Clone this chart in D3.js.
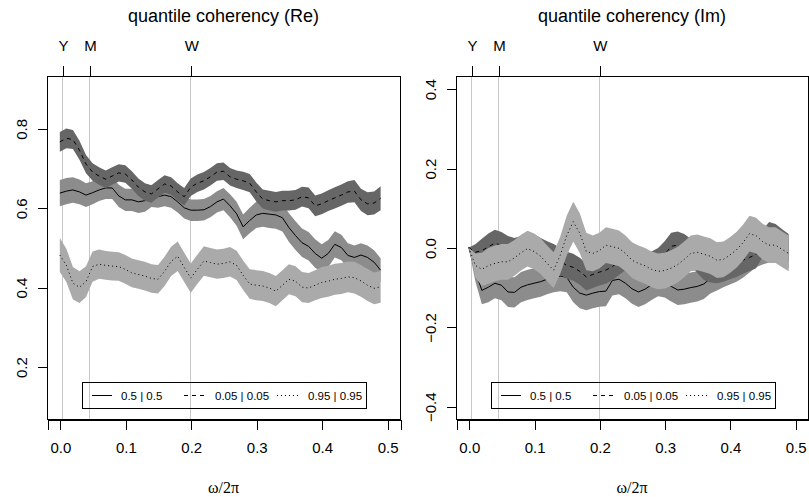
<!DOCTYPE html>
<html>
<head>
<meta charset="utf-8">
<script src="https://cdn.jsdelivr.net/npm/d3@7"></script>
<style>
	body { margin: 0; background: #fff; }
	svg { display: block; }
	text { font-family: "Liberation Sans", Arial, sans-serif; fill: #000; }
	.band { stroke: none; }
	.line { fill: none; stroke: #000; stroke-width: 1; }
	.axis line, .axis path, .box { stroke: #000; fill: none; shape-rendering: crispEdges; }
</style>
</head>
<body>
<div id="chart"></div>
<script>
// frequency grid (omega / 2pi)
const freqs = [0.00,0.01,0.02,0.03,0.04,0.05,0.06,0.07,0.08,0.09,
	0.10,0.11,0.12,0.13,0.14,0.15,0.16,0.17,0.18,0.19,
	0.20,0.21,0.22,0.23,0.24,0.25,0.26,0.27,0.28,0.29,
	0.30,0.31,0.32,0.33,0.34,0.35,0.36,0.37,0.38,0.39,
	0.40,0.41,0.42,0.43,0.44,0.45,0.46,0.47,0.48,0.49];

// real part
const reMid = [0.637,0.642,0.645,0.640,0.632,0.638,0.645,0.650,0.650,0.630,
	0.620,0.620,0.615,0.618,0.630,0.628,0.632,0.628,0.615,0.600,
	0.594,0.594,0.595,0.603,0.615,0.622,0.605,0.585,0.552,0.568,
	0.582,0.586,0.584,0.582,0.575,0.550,0.530,0.512,0.503,0.485,
	0.473,0.485,0.508,0.500,0.480,0.475,0.481,0.475,0.463,0.443];
const reMidW = [0.033,0.033,0.032,0.031,0.030,0.029,0.028,0.028,0.028,0.028,
	0.028,0.028,0.028,0.028,0.028,0.028,0.028,0.028,0.027,0.027,
	0.027,0.027,0.027,0.027,0.027,0.028,0.029,0.030,0.031,0.032,
	0.033,0.034,0.035,0.035,0.035,0.036,0.036,0.036,0.036,0.036,
	0.035,0.034,0.033,0.032,0.031,0.030,0.030,0.030,0.030,0.030];
const reLow = [0.766,0.775,0.772,0.745,0.710,0.690,0.680,0.672,0.680,0.688,
	0.685,0.670,0.652,0.640,0.635,0.648,0.660,0.655,0.640,0.628,
	0.652,0.662,0.668,0.678,0.690,0.692,0.678,0.672,0.668,0.662,
	0.640,0.622,0.618,0.615,0.618,0.618,0.620,0.628,0.625,0.605,
	0.610,0.618,0.625,0.632,0.640,0.642,0.620,0.610,0.612,0.624];
const reLowW = [0.025,0.025,0.024,0.024,0.023,0.022,0.022,0.022,0.022,0.022,
	0.022,0.022,0.022,0.022,0.022,0.022,0.022,0.022,0.022,0.022,
	0.022,0.022,0.022,0.022,0.022,0.022,0.022,0.022,0.023,0.023,
	0.024,0.024,0.025,0.025,0.025,0.025,0.025,0.025,0.026,0.026,
	0.026,0.026,0.027,0.027,0.027,0.028,0.028,0.029,0.029,0.030];
const reHigh = [0.481,0.455,0.410,0.400,0.414,0.452,0.458,0.455,0.453,0.452,
	0.445,0.436,0.432,0.428,0.422,0.420,0.440,0.465,0.478,0.450,
	0.423,0.445,0.466,0.462,0.458,0.460,0.464,0.455,0.430,0.408,
	0.405,0.403,0.398,0.390,0.405,0.420,0.415,0.400,0.398,0.405,
	0.412,0.415,0.420,0.422,0.426,0.424,0.416,0.405,0.397,0.401];
const reHighW = [0.043,0.042,0.041,0.040,0.039,0.038,0.037,0.036,0.036,0.036,
	0.036,0.036,0.036,0.036,0.036,0.036,0.037,0.037,0.037,0.037,
	0.037,0.037,0.037,0.037,0.037,0.037,0.037,0.037,0.037,0.037,
	0.038,0.038,0.038,0.038,0.038,0.038,0.038,0.038,0.038,0.038,
	0.039,0.039,0.039,0.039,0.039,0.040,0.040,0.040,0.040,0.040];

// imaginary part
const imMid = [0.000,-0.060,-0.108,-0.100,-0.090,-0.095,-0.112,-0.113,-0.100,-0.094,
	-0.090,-0.086,-0.080,-0.075,-0.072,-0.075,-0.100,-0.115,-0.120,-0.115,
	-0.111,-0.110,-0.083,-0.080,-0.090,-0.104,-0.112,-0.105,-0.094,-0.085,
	-0.088,-0.098,-0.107,-0.105,-0.101,-0.098,-0.092,-0.078,-0.070,-0.062,
	-0.055,-0.048,-0.038,-0.025,-0.012,-0.005,0.000,0.005,-0.005,-0.015];
const imMidW = [0.000,0.025,0.035,0.038,0.038,0.038,0.038,0.038,0.038,0.038,
	0.038,0.038,0.038,0.038,0.038,0.038,0.038,0.038,0.038,0.038,
	0.038,0.038,0.038,0.038,0.038,0.038,0.038,0.038,0.038,0.038,
	0.038,0.038,0.038,0.038,0.038,0.038,0.038,0.038,0.038,0.038,
	0.038,0.038,0.038,0.038,0.038,0.038,0.038,0.038,0.038,0.038];
const imLow = [0.000,-0.012,-0.008,0.002,0.011,0.005,-0.005,-0.010,-0.005,0.000,
	0.000,-0.010,-0.018,-0.025,-0.035,-0.045,-0.050,-0.060,-0.074,-0.068,
	-0.062,-0.057,-0.048,-0.035,-0.023,-0.028,-0.036,-0.040,-0.044,-0.035,
	-0.018,0.003,0.006,0.000,-0.012,-0.030,-0.048,-0.054,-0.056,-0.052,
	-0.046,-0.040,-0.032,-0.025,-0.018,0.010,0.030,0.025,0.012,0.000];
const imLowW = [0.000,0.020,0.030,0.033,0.034,0.034,0.034,0.034,0.034,0.034,
	0.034,0.034,0.034,0.034,0.034,0.034,0.034,0.034,0.034,0.034,
	0.034,0.034,0.034,0.034,0.034,0.034,0.034,0.034,0.034,0.034,
	0.034,0.034,0.034,0.034,0.034,0.034,0.034,0.034,0.034,0.034,
	0.034,0.034,0.034,0.034,0.034,0.034,0.034,0.034,0.034,0.034];
const imHigh = [0.000,-0.045,-0.055,-0.046,-0.040,-0.036,-0.036,-0.026,-0.013,-0.003,
	-0.010,-0.022,-0.040,-0.057,-0.020,0.030,0.065,0.036,-0.010,-0.015,
	-0.008,0.006,0.002,-0.002,-0.015,-0.032,-0.040,-0.046,-0.055,-0.060,
	-0.058,-0.052,-0.043,-0.030,-0.015,-0.012,-0.017,-0.022,-0.032,-0.030,
	-0.019,-0.006,0.012,0.035,0.030,0.015,0.006,0.006,-0.005,-0.015];
const imHighW = [0.000,0.030,0.042,0.045,0.045,0.045,0.045,0.045,0.045,0.045,
	0.045,0.045,0.045,0.045,0.047,0.050,0.050,0.050,0.047,0.045,
	0.045,0.045,0.045,0.045,0.045,0.045,0.045,0.045,0.045,0.045,
	0.045,0.045,0.045,0.045,0.045,0.045,0.045,0.045,0.045,0.045,
	0.045,0.045,0.045,0.045,0.045,0.045,0.045,0.045,0.045,0.045];

// legend / series labels, top axis marks, tick labels
const seriesLabels = ['0.5 | 0.5', '0.05 | 0.05', '0.95 | 0.95'];
const periodLabels = ['Y', 'M', 'W'];
const periodFreqs = [1/250, 1/22, 1/5];
const xTicks = [0, 0.1, 0.2, 0.3, 0.4, 0.5];
const reTicks = [0.2, 0.4, 0.6, 0.8];
const imTicks = [-0.4, -0.2, 0.0, 0.2, 0.4];

const W = 809, H = 497;
const fills = ['#8c8c8c', '#666666', '#aaaaaa'];
const dashes = [null, '4,4', '1,3'];

const svg = d3.select('#chart').append('svg')
	.attr('width', W).attr('height', H)
	.attr('viewBox', `0 0 ${W} ${H}`);
svg.append('rect').attr('width', W).attr('height', H).attr('fill', '#fff');

const drawPanel = ({ id, title, left, right, yDomain, yTicks, series }) => {
	const top = 76, bottom = 419;
	const x = d3.scaleLinear().domain([-0.0196, 0.5196]).range([left, right]);
	const y = d3.scaleLinear().domain(yDomain).range([bottom, top]);
	const g = svg.append('g').attr('id', id);

	g.append('clipPath').attr('id', id + 'clip')
		.append('rect').attr('x', left).attr('y', top)
		.attr('width', right - left).attr('height', bottom - top);

	const plot = g.append('g').attr('clip-path', `url(#${id}clip)`);

	// period marks
	plot.selectAll('.vline').data(periodFreqs).join('line')
		.attr('x1', d => x(d)).attr('x2', d => x(d))
		.attr('y1', top).attr('y2', bottom)
		.attr('stroke', '#c8c8c8').attr('stroke-width', 1)
		.attr('shape-rendering', 'crispEdges');

	series.forEach((s, i) => {
		const rows = freqs.map((f, k) => ({ f, v: s.est[k], w: s.hw[k] }));
		const area = d3.area()
			.x(d => x(d.f))
			.y0(d => y(d.v - d.w))
			.y1(d => y(d.v + d.w));
		const line = d3.line()
			.x(d => x(d.f))
			.y(d => y(d.v));
		plot.append('path').datum(rows)
			.attr('class', 'band')
			.attr('fill', fills[i])
			.attr('d', area);
		plot.append('path').datum(rows)
			.attr('class', 'line')
			.attr('stroke-dasharray', dashes[i])
			.attr('d', line);
	});

	// box
	g.append('rect').attr('class', 'box')
		.attr('x', left + 0.5).attr('y', top + 0.5)
		.attr('width', right - left).attr('height', bottom - top);

	// bottom axis
	const xa = g.append('g').attr('class', 'axis')
		.attr('transform', `translate(0.5, ${bottom + 0.5})`)
		.call(d3.axisBottom(x).tickValues(xTicks).tickSize(10).tickPadding(13).tickFormat(d3.format('.1f')));
	xa.selectAll('text').attr('font-size', 15).attr('font-family', '"Liberation Sans", Arial, sans-serif');

	// top axis with period marks
	const ta = g.append('g').attr('class', 'axis')
		.attr('transform', `translate(0.5, ${top + 0.5})`)
		.call(d3.axisTop(x).tickValues(periodFreqs).tickSize(11).tickPadding(15)
			.tickFormat((d, k) => periodLabels[k]));
	ta.select('.domain').attr('d', `M${x(periodFreqs[0])},0H${x(periodFreqs[2])}`);
	ta.selectAll('text').attr('font-size', 15).attr('font-family', '"Liberation Sans", Arial, sans-serif');

	// left axis, rotated labels
	const ya = g.append('g').attr('class', 'axis')
		.attr('transform', `translate(${left + 0.5}, 0.5)`)
		.call(d3.axisLeft(y).tickValues(yTicks).tickSize(10).tickFormat(d3.format('.1f')));
	ya.select('.domain').attr('d', `M0,${y(yTicks[0])}V${y(yTicks[yTicks.length - 1])}`);
	ya.selectAll('text')
		.attr('font-size', 15)
		.attr('font-family', '"Liberation Sans", Arial, sans-serif')
		.attr('text-anchor', 'middle')
		.attr('dy', null)
		.attr('x', null)
		.attr('dominant-baseline', 'central')
		.attr('transform', 'translate(-26,0) rotate(-90)')
		.text(d => d3.format('.1f')(d).replace('-', '\u2212'));

	// title and x label
	g.append('text')
		.attr('x', (left + right) / 2).attr('y', 22)
		.attr('text-anchor', 'middle').attr('font-size', 18)
		.text(title);
	g.append('text')
		.attr('x', x(0.25)).attr('y', 493)
		.attr('text-anchor', 'middle').attr('font-size', 16)
		.style('font-family', '"Liberation Serif", "DejaVu Serif", serif')
		.text('\u03c9/2\u03c0');

	// legend
	const lg = g.append('g').attr('transform', `translate(${left + 35}, 382)`);
	lg.append('rect').attr('class', 'box')
		.attr('x', 0.5).attr('y', 0.5).attr('width', 284).attr('height', 26);
	const items = [
		{ x1: 10, x2: 30, tx: 39 },
		{ x1: 102, x2: 124, tx: 133 },
		{ x1: 195, x2: 216, tx: 226 }
	];
	seriesLabels.forEach((lab, i) => {
		lg.append('line')
			.attr('x1', items[i].x1).attr('x2', items[i].x2)
			.attr('y1', 13.5).attr('y2', 13.5)
			.attr('stroke', '#000')
			.attr('stroke-dasharray', dashes[i]);
		lg.append('text')
			.attr('x', items[i].tx).attr('y', 17.5)
			.attr('font-size', 11.5)
			.text(lab);
	});
};

drawPanel({
	id: 're', title: 'quantile coherency (Re)',
	left: 47, right: 400, yDomain: [0.068, 0.932], yTicks: reTicks,
	series: [
		{ est: reMid, hw: reMidW },
		{ est: reLow, hw: reLowW },
		{ est: reHigh, hw: reHighW }
	]
});
drawPanel({
	id: 'im', title: 'quantile coherency (Im)',
	left: 456, right: 808, yDomain: [-0.432, 0.432], yTicks: imTicks,
	series: [
		{ est: imMid, hw: imMidW },
		{ est: imLow, hw: imLowW },
		{ est: imHigh, hw: imHighW }
	]
});
</script>
</body>
</html>
